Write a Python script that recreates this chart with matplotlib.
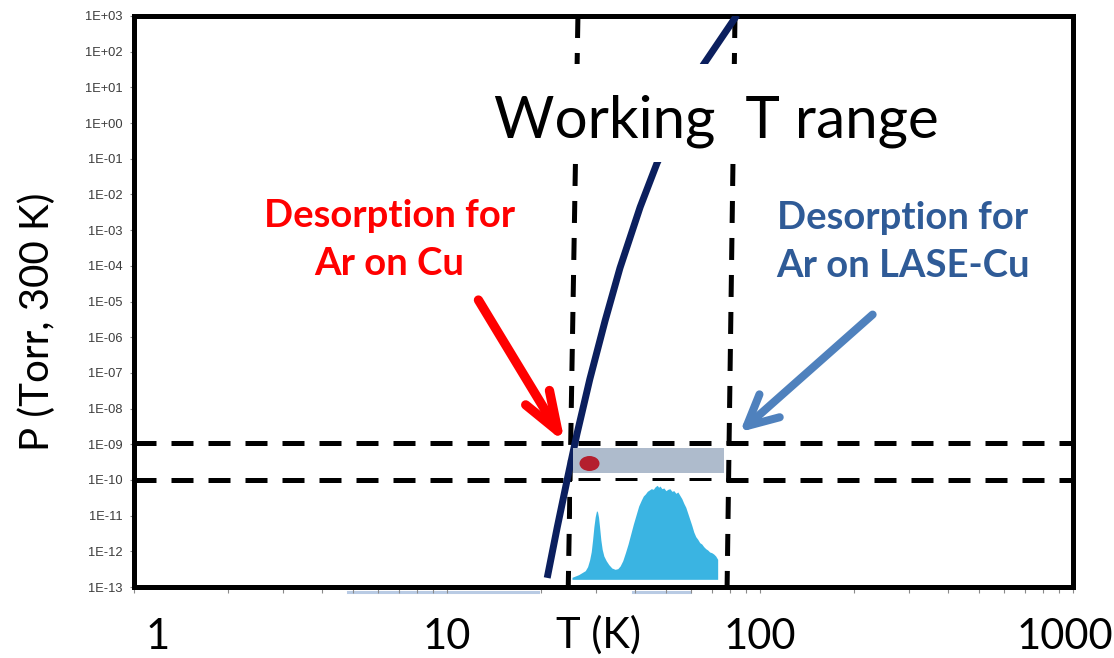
import numpy as np
import matplotlib
matplotlib.use("Agg")
import matplotlib.pyplot as plt
from matplotlib.path import Path
from matplotlib.patches import Rectangle
from matplotlib.transforms import Affine2D, ScaledTranslation
from matplotlib.ticker import FixedLocator, FuncFormatter, LogLocator, NullFormatter

# Argon saturated vapour pressure (T in K, P in Torr at 300 K)
vapor_T = [20.9, 22.5, 24.2, 26.0, 28.6, 32.0, 35.7, 41.4, 46.9, 65.8, 84.4]
vapor_P = [1.8e-13, 4.7e-12, 1.0e-10, 1.9e-9, 6.7e-8, 2.9e-6, 8.7e-5, 4.4e-3, 7.6e-2, 42.0, 1.06e3]

# Operating pressure window
P_window = [1.0e-10, 1.1e-9]

# Working temperature range edges (value at top, value at bottom of the frame)
T_low_edge = [26.2, 24.4]
T_high_edge = [83.2, 78.5]
P_span = [1e3, 1e-13]

# Desorption band of Ar on LASE-Cu
band_T = [25.3, 76.7]
band_P = [1.6e-10, 8.0e-10]

# Desorption of Ar on plain Cu
cu_T = [28.4]
cu_P = [3.0e-10]

# Arrows: (tail T, tail P) -> (tip T, tip P)
cu_arrow = [(12.6, 1.1e-5), (23.8, 1.1e-9)]
lase_arrow = [(229.0, 4.3e-6), (86.3, 2.2e-9)]

# TPD spectrum of Ar on LASE-Cu (channel, signal)
tpd_x = [0, 10, 20, 30, 40, 47, 53, 58, 62, 66, 70, 74, 77, 80, 83, 87, 91, 96,
         103, 111, 120, 130, 138, 145, 153, 161, 169, 177, 185, 193, 201, 209,
         215, 221, 227, 233, 239, 245, 251, 257, 261, 265, 271, 277, 283, 289,
         295, 301, 307, 313, 319, 325, 331, 337, 343, 349, 355, 361, 367, 373,
         379, 385, 391, 397, 403, 409, 415, 421, 427, 433, 439]
tpd_y = [6, 10, 14, 20, 26, 38, 58, 83, 118, 158, 188, 206, 202, 186, 158, 118,
         90, 70, 56, 44, 34, 30, 32, 40, 56, 80, 106, 136, 166, 193, 220, 238,
         250, 256, 264, 268, 272, 270, 278, 282, 276, 280, 272, 274, 266, 270,
         272, 264, 266, 258, 262, 252, 242, 228, 216, 198, 180, 162, 142, 128,
         120, 110, 106, 98, 92, 88, 82, 80, 76, 70, 60]

x_ticks = [1, 10, 100, 1000]
x_tick_labels = ["1", "10", "100", "1000"]
y_decades = list(range(-13, 4))

W, H = 1114, 658
fig = plt.figure(figsize=(W / 100, H / 100), dpi=100)
fig.patch.set_facecolor("white")


def fx(px):
    return px / W


def fy(py):
    return 1 - py / H


ax = fig.add_axes([fx(134), fy(587), fx(1073) - fx(134), fy(16) - fy(587)])
ax.set_xscale("log")
ax.set_yscale("log")
ax.set_xlim(1, 1000)
ax.set_ylim(1e-13, 1e3)

for sp in ax.spines.values():
    sp.set_linewidth(3.6)
    sp.set_color("black")

ax.yaxis.set_major_locator(FixedLocator([10.0 ** d for d in y_decades]))
ax.yaxis.set_minor_locator(FixedLocator([]))
ax.yaxis.set_major_formatter(FuncFormatter(lambda v, pos: f"1E{int(round(np.log10(v))):+03d}"))
ax.tick_params(axis="y", which="major", direction="out", length=3, width=0.8,
               color="#8a8a8a", pad=5, labelsize=9.3, labelcolor="#3c3c3c")
for lab in ax.get_yticklabels():
    lab.set_fontfamily("Liberation Sans")

ax.xaxis.set_major_locator(FixedLocator(x_ticks))
ax.xaxis.set_major_formatter(FuncFormatter(lambda v, pos: x_tick_labels[x_ticks.index(int(round(v)))]))
ax.xaxis.set_minor_locator(LogLocator(base=10, subs=np.arange(2, 10)))
ax.xaxis.set_minor_formatter(NullFormatter())
ax.tick_params(axis="x", which="both", direction="out", length=4.5, width=0.8,
               color="#8a8a8a", pad=18, labelsize=30)
xlabels = ax.get_xticklabels()
for lab in xlabels:
    lab.set_fontfamily("Lato")
xlabels[0].set_transform(xlabels[0].get_transform() + ScaledTranslation(0.24, 0, fig.dpi_scale_trans))
xlabels[-1].set_transform(xlabels[-1].get_transform() + ScaledTranslation(-0.08, 0, fig.dpi_scale_trans))

dash = (4.4, 3.0)
for p in P_window:
    ax.axhline(p, color="black", lw=3.6, dashes=dash, zorder=3)
ax.plot(T_low_edge, P_span, color="black", lw=3.6, dashes=dash, zorder=3)
ax.plot(T_high_edge, P_span, color="black", lw=3.6, dashes=dash, zorder=3)

ax.plot(vapor_T, vapor_P, color="#0b1f5e", lw=5, zorder=4, solid_capstyle="butt",
        solid_joinstyle="round")

ax.fill_between(band_T, band_P[0], band_P[1], color="#aebbcc", lw=0, zorder=4)

ellipse = Path.unit_circle().transformed(Affine2D().scale(1, 0.75))
ax.plot(cu_T, cu_P, marker=ellipse, ms=14.4, color="#b41f2e", mec="none", ls="none", zorder=5)

ax.annotate("", xy=cu_arrow[1], xytext=cu_arrow[0],
            arrowprops=dict(arrowstyle="->,head_length=28,head_width=10", mutation_scale=1,
                            color="#ff0000", lw=6.7, shrinkA=0, shrinkB=0,
                            capstyle="round", joinstyle="round"), zorder=6)
ax.annotate("", xy=lase_arrow[1], xytext=lase_arrow[0],
            arrowprops=dict(arrowstyle="->,head_length=22,head_width=11", mutation_scale=1,
                            color="#4f81bd", lw=5.8, shrinkA=0, shrinkB=0,
                            capstyle="round", joinstyle="round"), zorder=6)

ax.text(6.53, 5.3e-4, "Desorption for\nAr on Cu", color="#ff0000", fontsize=27.5,
        fontweight="bold", family="Lato", ha="center", va="center", linespacing=1.5, zorder=7)
ax.text(286, 4.6e-4, "Desorption for\nAr on LASE-Cu", color="#2f5b97", fontsize=27.5,
        fontweight="bold", family="Lato", ha="center", va="center", linespacing=1.5, zorder=7)

ax.add_patch(Rectangle(((490 - 134) / 939, (587 - 162) / 571), (945 - 490) / 939, (162 - 64) / 571,
                       transform=ax.transAxes, facecolor="white", edgecolor="none", zorder=8))
ax.text(72.3, 0.406, "Working  T range", fontsize=42, family="Lato", ha="center",
        va="baseline", color="black", zorder=9)

# faint traces under the temperature axis
trace_T = [(4.83, 19.5), (39.3, 59.7)]
for t0, t1 in trace_T:
    ax.plot([t0, t1], [-0.008, -0.008], transform=ax.get_xaxis_transform(), color="#b9cbe4",
            lw=2.2, clip_on=False, zorder=1)

ax.text((598 - 134) / 939, (587 - 635) / 571, "T (K)", transform=ax.transAxes, fontsize=30,
        family="Lato", ha="center", va="center")
fig.text(fx(37), fy(322), "P (Torr, 300 K)", rotation=90, fontsize=29, family="Lato",
         ha="center", va="center")

ins = fig.add_axes([fx(572), fy(580), fx(718) - fx(572), fy(481) - fy(580)])
ins.set_facecolor("white")
ins.fill_between(tpd_x, 0, tpd_y, color="#3ab4e2", lw=0)
ins.set_xlim(0, 440)
ins.set_ylim(-2, 295)
ins.set_xticks([])
ins.set_yticks([])
for sp in ins.spines.values():
    sp.set_visible(False)

fig.savefig("out.png", dpi=100, facecolor="white")
